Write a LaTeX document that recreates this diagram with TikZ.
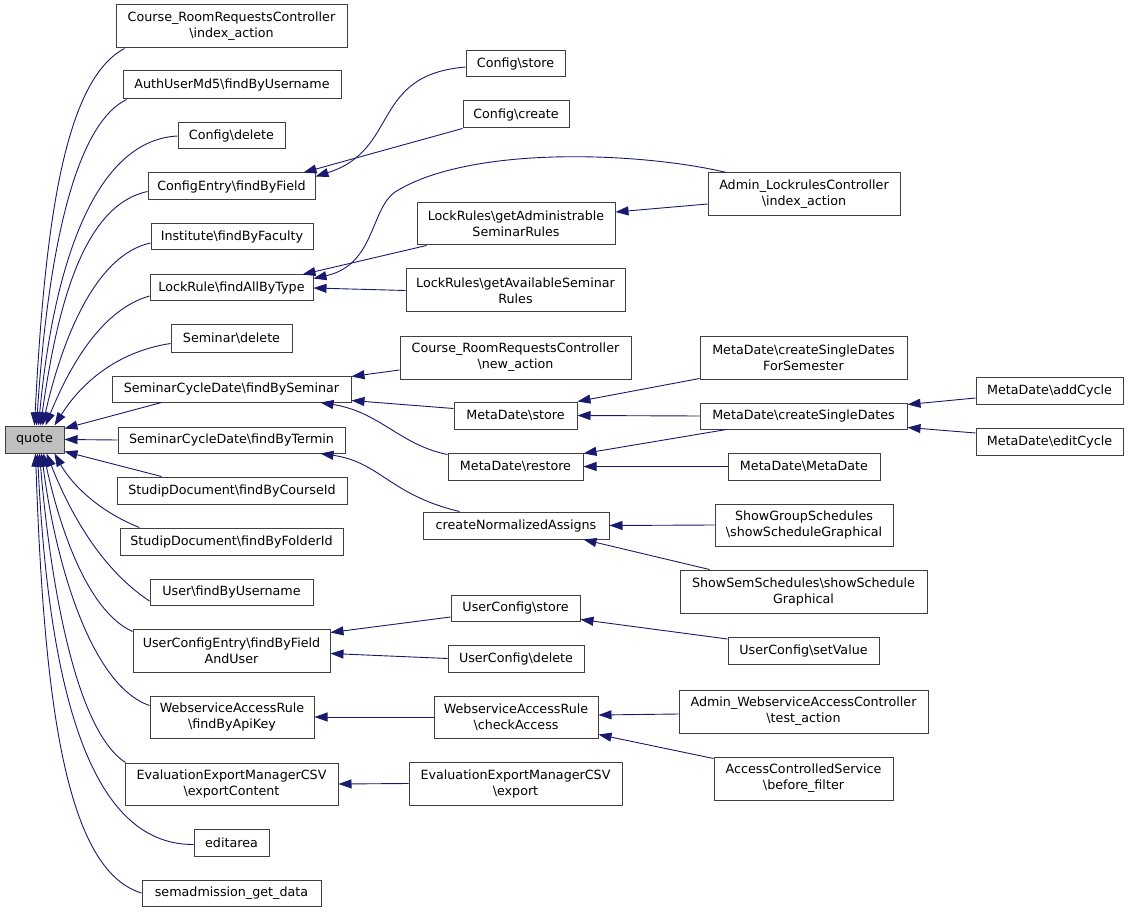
\documentclass[tikz,border=0pt]{standalone}
\usepackage{fontspec}
\setmainfont{DejaVu Sans}
\usetikzlibrary{arrows.meta}
\definecolor{edgeblue}{RGB}{25,25,112}
\definecolor{nodeborder}{RGB}{64,64,64}
\definecolor{quotefill}{RGB}{191,191,191}
\newcommand\bx[7][]{\node[box,#1,minimum width={#5-#3},minimum height={#6-#4}] (#2) at ({(#3+#5)/2},{(#4+#6)/2}) {#7};}
\newcommand\bs{\textbackslash}
\begin{document}
\begin{tikzpicture}[x=1pt,y=-1pt,
  box/.style={draw=nodeborder,line width=1pt,fill=white,inner sep=0pt,align=center,font=\fontsize{12.7}{16}\selectfont},
  e/.style={draw=edgeblue,line width=0.9pt,-{Triangle[length=13pt,width=9pt]}}]
\useasboundingbox[fill=white] (0,0) rectangle (1128,912);
% root
\bx[fill=quotefill]{quote}{5}{426}{64}{453}{quote}
% left column
\bx{crrcIdx}{116}{5}{347}{48}{Course\_RoomRequestsController\\\bs index\_action}
\bx{auth}{123}{71}{341}{99}{AuthUserMd5\bs findByUsername}
\bx{cfgDel}{178}{123}{285}{149}{Config\bs delete}
\bx{cfgEntry}{148}{173}{315}{200}{ConfigEntry\bs findByField}
\bx{inst}{151}{224}{313}{250}{Institute\bs findByFaculty}
\bx{lockRule}{150}{275}{313}{301}{LockRule\bs findAllByType}
\bx{semDel}{171}{325}{292}{352}{Seminar\bs delete}
\bx{scdSem}{112}{376}{351}{402}{SeminarCycleDate\bs findBySeminar}
\bx{scdTerm}{118}{427}{345}{453}{SeminarCycleDate\bs findByTermin}
\bx{docCourse}{117}{477}{347}{504}{StudipDocument\bs findByCourseId}
\bx{docFolder}{120}{528}{343}{555}{StudipDocument\bs findByFolderId}
\bx{userFind}{150}{579}{313}{605}{User\bs findByUsername}
\bx{ucEntry}{133}{629}{330}{672}{UserConfigEntry\bs findByField\\AndUser}
\bx{wsApi}{150}{696}{314}{738}{WebserviceAccessRule\\\bs findByApiKey}
\bx{evalContent}{125}{763}{338}{805}{EvaluationExportManagerCSV\\\bs exportContent}
\bx{editarea}{194}{829}{269}{856}{editarea}
\bx{semadm}{142}{880}{321}{906}{semadmission\_get\_data}
% middle column
\bx{cfgStore}{466}{51}{565}{77}{Config\bs store}
\bx{cfgCreate}{463}{101}{569}{128}{Config\bs create}
\bx{lrAdmin}{417}{203}{615}{245}{LockRules\bs getAdministrable\\SeminarRules}
\bx{lrAvail}{406}{269}{625}{312}{LockRules\bs getAvailableSeminar\\Rules}
\bx{crrcNew}{400}{336}{631}{379}{Course\_RoomRequestsController\\\bs new\_action}
\bx{mdStore}{454}{402}{577}{429}{MetaDate\bs store}
\bx{mdRestore}{448}{453}{583}{480}{MetaDate\bs restore}
\bx{cna}{423}{512}{609}{539}{createNormalizedAssigns}
\bx{ucStore}{451}{595}{580}{621}{UserConfig\bs store}
\bx{ucDelete}{448}{645}{584}{672}{UserConfig\bs delete}
\bx{wsCheck}{434}{696}{598}{738}{WebserviceAccessRule\\\bs checkAccess}
\bx{evalExport}{409}{762}{622}{805}{EvaluationExportManagerCSV\\\bs export}
% right column
\bx{adminLock}{708}{173}{900}{216}{Admin\_LockrulesController\\\bs index\_action}
\bx{mdCSDsem}{700}{336}{907}{379}{MetaDate\bs createSingleDates\\ForSemester}
\bx{mdCSD}{700}{403}{907}{429}{MetaDate\bs createSingleDates}
\bx{mdMeta}{728}{453}{880}{480}{MetaDate\bs MetaDate}
\bx{showGroup}{715}{504}{893}{546}{ShowGroupSchedules\\\bs showScheduleGraphical}
\bx{showSem}{680}{570}{927}{613}{ShowSemSchedules\bs showSchedule\\Graphical}
\bx{ucSet}{728}{637}{879}{664}{UserConfig\bs setValue}
\bx{adminWs}{679}{690}{928}{733}{Admin\_WebserviceAccessController\\\bs test\_action}
\bx{acs}{714}{757}{893}{800}{AccessControlledService\\\bs before\_filter}
% far right
\bx{addCycle}{976}{377}{1123}{404}{MetaDate\bs addCycle}
\bx{editCycle}{976}{428}{1123}{455}{MetaDate\bs editCycle}
% edges into quote
\draw[e] ([xshift=9pt]crrcIdx.south west) .. controls (65,80) and (45,220) .. ([xshift=30pt]quote.north west);
\draw[e] ([xshift=4pt]auth.south west) .. controls (75,125) and (48,250) .. ([xshift=32pt]quote.north west);
\draw[e] (cfgDel.west) .. controls (100,140) and (55,250) .. ([xshift=34pt]quote.north west);
\draw[e] ([yshift=-5pt]cfgEntry.west) .. controls (85,205) and (58,300) .. ([xshift=36pt]quote.north west);
\draw[e] ([yshift=-6pt]inst.west) .. controls (95,255) and (62,340) .. ([xshift=38pt]quote.north west);
\draw[e] ([yshift=-8pt]lockRule.west) .. controls (100,310) and (68,370) .. ([xshift=41pt]quote.north west);
\draw[e] ([yshift=-5pt]semDel.west) .. controls (115,352) and (80,385) .. ([xshift=-10pt]quote.north east);
\draw[e] ([xshift=50pt]scdSem.south west) -- ([yshift=-3pt]quote.north east);
\draw[e] (scdTerm.west) -- (quote.east);
\draw[e] ([xshift=45pt]docCourse.north west) -- ([yshift=2pt]quote.south east);
\draw[e] ([xshift=20pt]docFolder.north west) .. controls (100,512) and (72,485) .. ([xshift=-10pt]quote.south east);
\draw[e] ([yshift=-9pt]userFind.west) .. controls (95,565) and (65,500) .. ([xshift=42pt]quote.south west);
\draw[e] ([yshift=-3pt]ucEntry.north west) .. controls (85,610) and (58,520) .. ([xshift=39pt]quote.south west);
\draw[e] ([yshift=-10pt]wsApi.north west) .. controls (90,685) and (55,560) .. ([xshift=37pt]quote.south west);
\draw[e] ([xshift=1pt]evalContent.north west) .. controls (75,730) and (50,580) .. ([xshift=35pt]quote.south west);
\draw[e] ([yshift=-2pt]editarea.west) .. controls (100,845) and (50,720) .. ([xshift=33pt]quote.south west);
\draw[e] (semadm.west) .. controls (65,870) and (44,700) .. ([xshift=31pt]quote.south west);
% second level
\draw[e] ([yshift=-3pt]cfgStore.west) .. controls (370,75) and (400,150) .. ([yshift=-4pt]cfgEntry.north east);
\draw[e] (cfgCreate.south west) -- ([xshift=-12pt]cfgEntry.north east);
\draw[e] (lrAvail.west) -- (lockRule.east);
\draw[e] ([xshift=10pt]lrAdmin.south west) -- ([xshift=-11pt]lockRule.north east);
\draw[e] ([xshift=19pt]adminLock.north west) .. controls (640,152) and (470,145) .. (395,192) .. controls (370,210) and (375,265) .. ([yshift=-4pt]lockRule.north east);
\draw[e] ([yshift=-9.5pt]adminLock.west) -- ([yshift=12pt]lrAdmin.east);
\draw[e] ([yshift=-12.5pt]crrcNew.west) -- ([yshift=-1pt]scdSem.north east);
\draw[e] ([yshift=-7pt]mdStore.north west) -- ([yshift=2pt]scdSem.south east);
\draw[e] ([yshift=-2pt]mdRestore.north west) .. controls (400,445) and (380,412) .. ([xshift=-31pt]scdSem.south east);
\draw[e] ([xshift=37pt]cna.north west) .. controls (390,495) and (380,462) .. ([xshift=-25pt]scdTerm.south east);
\draw[e] ([yshift=1pt]mdCSDsem.south west) -- (mdStore.north east);
\draw[e] (mdCSD.west) -- (mdStore.east);
\draw[e] ([xshift=27pt]mdCSD.south west) -- ([yshift=-1pt]mdRestore.north east);
\draw[e] (mdMeta.west) -- (mdRestore.east);
\draw[e] ([yshift=-7.5pt]addCycle.west) -- ([yshift=-2pt]mdCSD.north east);
\draw[e] ([yshift=8.5pt]editCycle.west) -- ([yshift=2pt]mdCSD.south east);
\draw[e] (showGroup.west) -- (cna.east);
\draw[e] ([xshift=30pt]showSem.north west) -- ([xshift=-26pt]cna.south east);
\draw[e] ([yshift=-9pt]ucStore.west) -- ([yshift=-4pt]ucEntry.north east);
\draw[e] (ucDelete.west) -- ([yshift=-3pt]ucEntry.east);
\draw[e] ([yshift=11.5pt]ucSet.west) -- ([yshift=2pt]ucStore.south east);
\draw[e] (wsCheck.west) -- (wsApi.east);
\draw[e] ([yshift=-2.5pt]adminWs.west) -- ([yshift=2pt]wsCheck.east);
\draw[e] ([yshift=-2pt]acs.north west) -- ([yshift=4pt]wsCheck.south east);
\draw[e] (evalExport.west) -- (evalContent.east);
\end{tikzpicture}
\end{document}
